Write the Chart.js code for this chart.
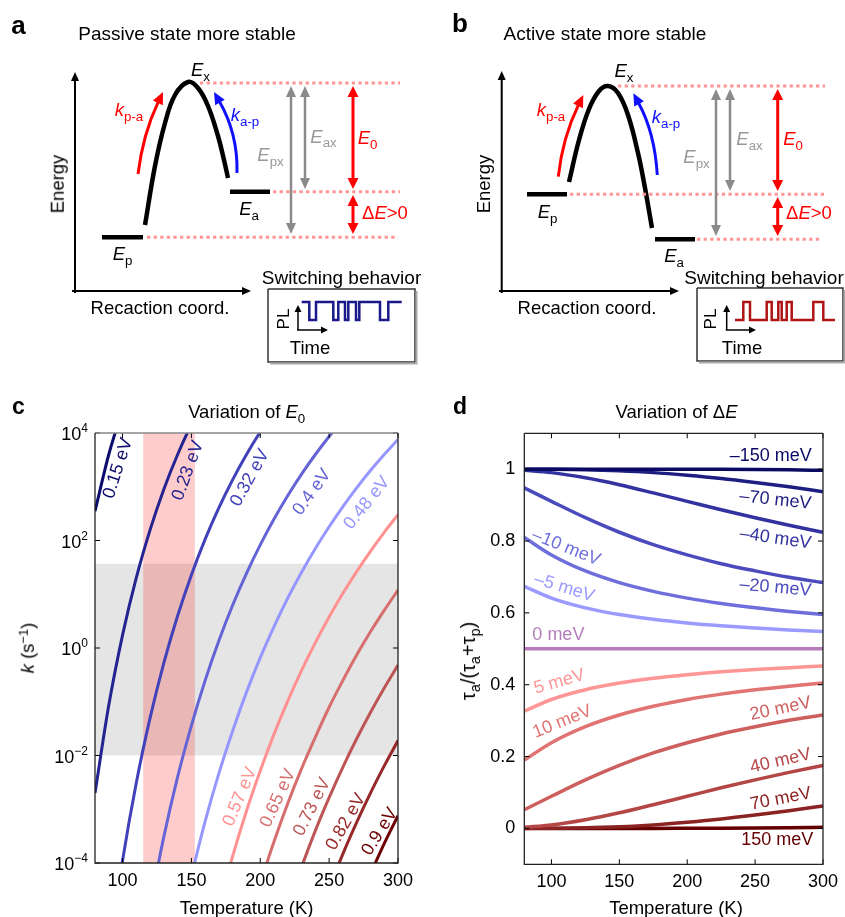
<!DOCTYPE html>
<html>
<head>
<meta charset="utf-8">
<script src="https://cdn.jsdelivr.net/npm/chart.js@4.4.0/dist/chart.umd.min.js"></script>
<style>
  body { margin: 0; background: #fff; }
  #page { position: relative; width: 845px; height: 917px; overflow: hidden; background: #fff;
          font-family: "Liberation Sans", Arial, Helvetica, sans-serif; font-size: 18.5px; color: #000; }
  canvas { position: absolute; }
  .t { position: absolute; white-space: nowrap; line-height: 1; transform: translate(-50%, -50%); }
  .r { transform: translate(-50%, -50%) rotate(-90deg); }
  .b { font-weight: bold; }
  .sub { font-size: 0.72em; position: relative; top: 0.35em; }
  .sup { font-size: 0.7em; position: relative; top: -0.45em; }
  .red { color: #f00; }
  .blue { color: #1010ff; }
  .gray { color: #999; }
</style>
</head>
<body>
<div id="page">
  <canvas id="schema" width="845" height="380" style="left:0;top:0"></canvas>
  <canvas id="chartC" width="420" height="527" style="left:0;top:390px"></canvas>
  <canvas id="chartD" width="425" height="527" style="left:420px;top:390px"></canvas>

  <!-- panneau a -->
  <div class="t b" style="left:18.5px;top:24.5px;font-size:26px">a</div>
  <div class="t" style="left:187px;top:33px;font-size:19px">Passive state more stable</div>
  <div class="t r" style="left:57.5px;top:184px">Energy</div>
  <div class="t" style="left:160px;top:308px">Recaction coord.</div>
  <div class="t" style="left:200.5px;top:70px"><i>E</i><span class="sub">x</span></div>
  <div class="t" style="left:122.5px;top:254px"><i>E</i><span class="sub">p</span></div>
  <div class="t" style="left:249px;top:209px"><i>E</i><span class="sub">a</span></div>
  <div class="t red" style="left:129px;top:110px"><i>k</i><span class="sub">p-a</span></div>
  <div class="t blue" style="left:245px;top:115px"><i>k</i><span class="sub">a-p</span></div>
  <div class="t gray" style="left:270.5px;top:155px"><i>E</i><span class="sub">px</span></div>
  <div class="t gray" style="left:323.5px;top:136.5px"><i>E</i><span class="sub">ax</span></div>
  <div class="t red" style="left:367.5px;top:138px"><i>E</i><span class="sub">0</span></div>
  <div class="t red" style="left:385px;top:213px">Δ<i>E</i>&gt;0</div>
  <div class="t" style="left:341.5px;top:277px;font-size:19px">Switching behavior</div>
  <div class="t r" style="left:283px;top:319px;font-size:17px">PL</div>
  <div class="t" style="left:310px;top:348px">Time</div>

  <!-- panneau b -->
  <div class="t b" style="left:460px;top:23px;font-size:26px">b</div>
  <div class="t" style="left:605px;top:33px;font-size:19px">Active state more stable</div>
  <div class="t r" style="left:483.5px;top:184px">Energy</div>
  <div class="t" style="left:587px;top:308px">Recaction coord.</div>
  <div class="t" style="left:624px;top:71px"><i>E</i><span class="sub">x</span></div>
  <div class="t" style="left:547.5px;top:212px"><i>E</i><span class="sub">p</span></div>
  <div class="t" style="left:674px;top:256px"><i>E</i><span class="sub">a</span></div>
  <div class="t red" style="left:551px;top:110px"><i>k</i><span class="sub">p-a</span></div>
  <div class="t blue" style="left:666px;top:117px"><i>k</i><span class="sub">a-p</span></div>
  <div class="t gray" style="left:696.5px;top:157px"><i>E</i><span class="sub">px</span></div>
  <div class="t gray" style="left:749.5px;top:139px"><i>E</i><span class="sub">ax</span></div>
  <div class="t red" style="left:793px;top:139px"><i>E</i><span class="sub">0</span></div>
  <div class="t red" style="left:809px;top:213px">Δ<i>E</i>&gt;0</div>
  <div class="t" style="left:764px;top:277px;font-size:19px">Switching behavior</div>
  <div class="t r" style="left:710px;top:319px;font-size:17px">PL</div>
  <div class="t" style="left:742px;top:348px">Time</div>

  <!-- panneaux c et d -->
  <div class="t b" style="left:18.5px;top:406px;font-size:23px">c</div>
  <div class="t" style="left:246.7px;top:412px">Variation of <i>E</i><span class="sub">0</span></div>
  <div class="t r" style="left:28px;top:648px"><i>k</i> (s<span class="sup">−1</span>)</div>
  <div class="t" style="left:246.7px;top:908px">Temperature (K)</div>

  <div class="t b" style="left:460px;top:406px;font-size:23px">d</div>
  <div class="t" style="left:676.5px;top:412px">Variation of Δ<i>E</i></div>
  <div class="t r" style="left:468px;top:661px;font-size:20px">τ<span class="sub">a</span>/(τ<span class="sub">a</span>+τ<span class="sub">p</span>)</div>
  <div class="t" style="left:676px;top:908px">Temperature (K)</div>
</div>

<script>
// Réglages globaux
Chart.defaults.font.family = '"Liberation Sans", Arial, Helvetica, sans-serif';
Chart.defaults.font.size = 18;
Chart.defaults.color = '#000';
Chart.defaults.animation = false;
Chart.defaults.plugins.legend.display = false;
Chart.defaults.plugins.tooltip.enabled = false;

// ---- Panneau c : taux k(T) pour différentes barrières E0 ----
const tempsC = [80, 90, 100, 110, 120, 130, 140, 150, 160, 170, 180, 190, 200, 210, 220, 230, 240, 250, 260, 270, 280, 290, 300];
const energiesC = ['0.15 eV', '0.23 eV', '0.32 eV', '0.4 eV', '0.48 eV', '0.57 eV', '0.65 eV', '0.73 eV', '0.82 eV', '0.9 eV'];
const rate015 = [3.5e2, 3.98e3, 2.75e4, null, null, null, null, null, null, null, null, null, null, null, null, null, null, null, null, null, null, null, null];
const rate023 = [2.0e-3, 8.6e-2, 1.74, 20.4, 158, 900, 3.98e3, 1.45e4, 4.5e4, null, null, null, null, null, null, null, null, null, null, null, null, null, null];
const rate032 = [null, 1.9e-6, 1.1e-4, 3.1e-3, 5.0e-2, 0.53, 3.98, 22.9, 106, 409, 1.36e3, 3.98e3, 1.05e4, 2.5e4, null, null, null, null, null, null, null, null, null];
const rate040 = [null, null, null, null, 1.6e-5, 3.1e-4, 4.0e-3, 3.6e-2, 0.25, 1.38, 6.3, 24.5, 83, 251, 686, 1.72e3, 3.98e3, 8.6e3, 1.76e4, null, null, null, null];
const rate048 = [null, null, null, null, null, null, null, 5.8e-5, 6.0e-4, 4.7e-3, 2.9e-2, 0.151, 0.66, 2.5, 8.5, 25.6, 71, 180, 428, 951, 2.0e3, 3.98e3, 7.6e3];
const rate057 = [null, null, null, null, null, null, null, null, null, 1.6e-5, 1.36e-4, 9.3e-4, 5.2e-3, 2.5e-2, 0.104, 0.383, 1.26, 3.77, 10.4, 26.4, 63, 142, 302];
const rate065 = [null, null, null, null, null, null, null, null, null, null, null, null, 4.2e-5, 2.5e-4, 1.29e-3, 5.7e-3, 2.2e-2, 7.9e-2, 0.25, 0.74, 2.0, 5.0, 12.0];
const rate073 = [null, null, null, null, null, null, null, null, null, null, null, null, null, null, null, 8.5e-5, 4.0e-4, 1.64e-3, 6.1e-3, 2.05e-2, 6.3e-2, 0.18, 0.48];
const rate082 = [null, null, null, null, null, null, null, null, null, null, null, null, null, null, null, null, null, 3.4e-5, 1.48e-4, 5.7e-4, 2.0e-3, 6.4e-3, 1.9e-2];
const rate090 = [null, null, null, null, null, null, null, null, null, null, null, null, null, null, null, null, null, null, null, null, 6.3e-5, 2.3e-4, 7.6e-4];
const ratesC = [rate015, rate023, rate032, rate040, rate048, rate057, rate065, rate073, rate082, rate090];
const tickTemps = [100, 150, 200, 250, 300];
const tickRates = [1e-4, 1e-2, 1e0, 1e2, 1e4];
const grayBandK = [1e-2, 37];      // zone grise (k)
const pinkBandT = [115, 152.5];    // zone rose (T)

// ---- Panneau d : tau_a/(tau_a+tau_p) pour différents Delta E ----
const tempsD = [80, 100, 125, 150, 175, 200, 225, 250, 275, 300];
const energiesD = ['–150 meV', '–70 meV', '–40 meV', '–20 meV', '–10 meV', '–5 meV', '0 meV', '5 meV', '10 meV', '20 meV', '40 meV', '70 meV', '150 meV'];
const fracM150 = [1, 1, 1, 1, 1, 0.9998, 0.9996, 0.9991, 0.9982, 0.997];
const fracM70 = [1.0, 0.9997, 0.9985, 0.9955, 0.9905, 0.983, 0.974, 0.963, 0.951, 0.9375];
const fracM40 = [0.997, 0.9905, 0.976, 0.9567, 0.934, 0.9106, 0.887, 0.865, 0.844, 0.8245];
const fracM20 = [0.948, 0.9106, 0.865, 0.8245, 0.790, 0.7616, 0.737, 0.717, 0.699, 0.6843];
const fracM10 = [0.810, 0.7614, 0.7167, 0.6843, 0.660, 0.6411, 0.6262, 0.614, 0.604, 0.5955];
const fracM5 = [0.6738, 0.6411, 0.614, 0.5955, 0.5822, 0.572, 0.5641, 0.5578, 0.5525, 0.5482];
const frac0 = [0.5, 0.5, 0.5, 0.5, 0.5, 0.5, 0.5, 0.5, 0.5, 0.5];
const frac5 = [0.3262, 0.3589, 0.386, 0.4045, 0.4178, 0.428, 0.4359, 0.4422, 0.4475, 0.4518];
const frac10 = [0.190, 0.2386, 0.2833, 0.3157, 0.340, 0.3589, 0.3738, 0.386, 0.396, 0.4045];
const frac20 = [0.052, 0.0894, 0.135, 0.1755, 0.210, 0.2384, 0.263, 0.283, 0.301, 0.3157];
const frac40 = [0.003, 0.0095, 0.024, 0.0433, 0.066, 0.0894, 0.113, 0.135, 0.156, 0.1755];
const frac70 = [0.0, 0.0003, 0.0015, 0.0045, 0.0095, 0.017, 0.026, 0.037, 0.049, 0.0625];
const frac150 = [0, 0, 0, 0, 0, 0.0002, 0.0004, 0.0009, 0.0018, 0.003];
const fracsD = [fracM150, fracM70, fracM40, fracM20, fracM10, fracM5, frac0, frac5, frac10, frac20, frac40, frac70, frac150];
const tickFracs = [0, 0.2, 0.4, 0.6, 0.8, 1];

// Couleurs
const colorsC = ['rgb(12,12,110)', 'rgb(35,35,145)', 'rgb(65,65,185)', 'rgb(100,100,215)', 'rgb(150,150,255)',
                 'rgb(255,145,145)', 'rgb(215,110,110)', 'rgb(190,85,85)', 'rgb(150,40,40)', 'rgb(110,0,0)'];
const colorsD = ['rgb(10,10,100)', 'rgb(30,30,130)', 'rgb(50,50,160)', 'rgb(75,75,190)', 'rgb(110,110,220)', 'rgb(155,155,255)',
                 'rgb(180,125,185)', 'rgb(255,150,150)', 'rgb(225,115,115)', 'rgb(205,95,95)', 'rgb(180,70,70)', 'rgb(140,35,35)', 'rgb(100,0,0)'];

// Positions des étiquettes (T, valeur, rotation en degrés)
const labelPosC = [[96.7, 2.2e3, -72], [147.5, 2.0e3, -70], [192.5, 1.45e3, -61], [237.6, 7.9e2, -54], [277.5, 5.0e2, -51],
                   [185.3, 1.7e-3, -67], [212.9, 1.6e-3, -65], [237.6, 1.1e-3, -63], [262.2, 5.8e-4, -60], [286.9, 3.8e-4, -58]];
const labelPosD = [[261.6, 1.037, 0], [265, 0.914, 6], [265, 0.807, 8], [265, 0.670, 5], [110.8, 0.782, 22], [109.5, 0.670, 17],
                   [105.1, 0.539, 0], [105.8, 0.408, -16], [108, 0.297, -22], [268.8, 0.333, -12], [268.8, 0.188, -13],
                   [268.8, 0.082, -11], [266.3, -0.033, 0]];

const FONT = '"Liberation Sans", Arial, Helvetica, sans-serif';

// Cadre, graduations intérieures et étiquettes des courbes
function framePlugin(opts) {
  return {
    id: 'frame_' + opts.name,
    beforeDatasetsDraw(chart) {
      if (opts.bands) opts.bands(chart);
    },
    afterDatasetsDraw(chart) {
      const { ctx, chartArea: a, scales: { x, y } } = chart;
      ctx.save();
      ctx.strokeStyle = '#000';
      ctx.lineWidth = 1;
      ctx.beginPath();
      x.ticks.forEach(t => {
        const px = x.getPixelForValue(t.value);
        ctx.moveTo(px, a.bottom); ctx.lineTo(px, a.bottom - 5);
        ctx.moveTo(px, a.top); ctx.lineTo(px, a.top + 5);
      });
      y.ticks.forEach(t => {
        const py = y.getPixelForValue(t.value);
        ctx.moveTo(a.left, py); ctx.lineTo(a.left + 5, py);
        ctx.moveTo(a.right, py); ctx.lineTo(a.right - 5, py);
      });
      ctx.stroke();

      ctx.lineWidth = 1.3;
      ctx.strokeStyle = opts.topColor || '#222';
      ctx.beginPath(); ctx.moveTo(a.left, a.top); ctx.lineTo(a.right, a.top); ctx.stroke();
      ctx.strokeStyle = '#222';
      ctx.beginPath();
      ctx.moveTo(a.left, a.top); ctx.lineTo(a.left, a.bottom); ctx.lineTo(a.right, a.bottom); ctx.lineTo(a.right, a.top);
      ctx.stroke();

      if (opts.logLabels) {
        ctx.fillStyle = '#000';
        ctx.textBaseline = 'alphabetic';
        ctx.textAlign = 'left';
        y.ticks.forEach(t => {
          const py = y.getPixelForValue(t.value);
          const e = Math.round(Math.log10(t.value));
          const exp = e < 0 ? '−' + (-e) : String(e);
          ctx.font = '12px ' + FONT;
          const wE = ctx.measureText(exp).width;
          ctx.font = '18px ' + FONT;
          const w10 = ctx.measureText('10').width;
          const right = a.left - 7;
          ctx.fillText('10', right - wE - w10, py + 7);
          ctx.font = '12px ' + FONT;
          ctx.fillText(exp, right - wE, py - 1);
        });
      }

      ctx.font = '18px ' + FONT;
      ctx.textAlign = 'center';
      ctx.textBaseline = 'middle';
      opts.labels.forEach((l, i) => {
        ctx.save();
        ctx.translate(x.getPixelForValue(l[0]), y.getPixelForValue(l[1]));
        ctx.rotate(l[2] * Math.PI / 180);
        ctx.fillStyle = opts.colors[i];
        ctx.fillText(opts.texts[i], 0, 0);
        ctx.restore();
      });
      ctx.restore();
    }
  };
}

function bandsC(chart) {
  const { ctx, chartArea: a, scales: { x, y } } = chart;
  ctx.save();
  ctx.fillStyle = '#e5e5e5';
  const yTop = y.getPixelForValue(grayBandK[1]);
  const yBot = y.getPixelForValue(grayBandK[0]);
  ctx.fillRect(a.left, yTop, a.right - a.left, yBot - yTop);
  ctx.fillStyle = 'rgba(255,0,0,0.2)';
  const x0 = x.getPixelForValue(pinkBandT[0]);
  const x1 = x.getPixelForValue(pinkBandT[1]);
  ctx.fillRect(x0, a.top, x1 - x0, a.bottom - a.top);
  ctx.restore();
}

function lineSets(temps, series, colors, width) {
  return series.map((vals, i) => ({
    data: temps.map((t, j) => ({ x: t, y: vals[j] })),
    showLine: true,
    borderColor: colors[i],
    borderWidth: width,
    pointRadius: 0,
    cubicInterpolationMode: 'monotone',
    spanGaps: false
  }));
}

const noGrid = { display: false, drawTicks: false };

// Graphique c
new Chart(document.getElementById('chartC'), {
  type: 'scatter',
  data: { datasets: lineSets(tempsC, ratesC, colorsC, 3) },
  options: {
    responsive: false,
    layout: { padding: { left: 35, top: 43, right: 22, bottom: 24 } },
    scales: {
      x: {
        type: 'linear', min: 80, max: 300,
        grid: noGrid, border: { display: false },
        ticks: { padding: 7, maxRotation: 0, callback: v => String(v) },
        afterBuildTicks: s => { s.ticks = tickTemps.map(v => ({ value: v })); },
        afterFit: s => { s.height = 30; }
      },
      y: {
        type: 'logarithmic', min: 1e-4, max: 1e4,
        grid: noGrid, border: { display: false },
        ticks: { display: false },
        afterBuildTicks: s => { s.ticks = tickRates.map(v => ({ value: v })); },
        afterFit: s => { s.width = 60; }
      }
    }
  },
  plugins: [framePlugin({ name: 'c', bands: bandsC, logLabels: true, topColor: '#888',
                          labels: labelPosC, texts: energiesC, colors: colorsC })]
});

// Graphique d
new Chart(document.getElementById('chartD'), {
  type: 'scatter',
  data: { datasets: lineSets(tempsD, fracsD, colorsD, 3.5) },
  options: {
    responsive: false,
    layout: { padding: { left: 44.3, top: 43.3, right: 16.7, bottom: 22.7 } },
    scales: {
      x: {
        type: 'linear', min: 80, max: 300,
        grid: noGrid, border: { display: false },
        ticks: { padding: 7, maxRotation: 0, callback: v => String(v) },
        afterBuildTicks: s => { s.ticks = tickTemps.map(v => ({ value: v })); },
        afterFit: s => { s.height = 30; }
      },
      y: {
        type: 'linear', min: -0.1, max: 1.1,
        grid: noGrid, border: { display: false },
        ticks: { padding: 9, callback: v => String(v) },
        afterBuildTicks: s => { s.ticks = tickFracs.map(v => ({ value: v })); },
        afterFit: s => { s.width = 60; }
      }
    }
  },
  plugins: [framePlugin({ name: 'd', labels: labelPosD, texts: energiesD, colors: colorsD })]
});

// ---- Schémas a et b (coordonnées du dessin en px) ----
const barrierA = [[145, 225], [155, 166], [165, 123], [175, 95], [188, 82], [198, 88], [208, 106], [218, 136], [224, 160], [228, 178]];
const barrierB = [[569, 182], [579, 140], [589, 109], [599, 91], [608, 86], [618, 93], [628, 115], [638, 153], [645, 188], [652, 228]];
const levels = [[102, 143, 237.3], [230, 270, 191.7], [527, 567, 194.3], [655, 695, 239.3]];   // x0, x1, y
const dotted = [[200, 400, 83], [273, 400, 191.7], [147, 398, 237.3], [618, 825, 86], [570, 825, 194.3], [697, 822, 239.3]];
const insets = [[268, 289, 415, 362], [697, 288, 843, 361]];
const pulseA = [[301.7, 1], [309.3, 0], [316, 1], [333.3, 0], [338.3, 1], [345, 0], [348.3, 1], [356, 0], [359.3, 1], [380, 0], [388.3, 1], [401.7, 1]];
const pulseB = [[735, 0], [743.3, 1], [750, 0], [766.7, 1], [771.7, 0], [778.3, 1], [781.7, 0], [786.7, 1], [791.7, 0], [813.3, 1], [823.3, 0], [835, 0]];
const pulseHigh = 302, pulseLow = 320;

const BLACK = '#000', GRAY = '#8a8a8a', RED = '#f00', BLUE = '#1010ff';
const arrows = [
  // axes
  { pts: [[75, 293], [75, 72]], color: BLACK, width: 2, head: 'end', len: 9, half: 4 },
  { pts: [[72, 291], [251, 291]], color: BLACK, width: 2, head: 'end', len: 9, half: 4 },
  { pts: [[501.7, 293], [501.7, 71]], color: BLACK, width: 2, head: 'end', len: 9, half: 4 },
  { pts: [[499, 291], [679, 291]], color: BLACK, width: 2, head: 'end', len: 9, half: 4 },
  // écarts d'énergie a
  { pts: [[291, 86], [291, 234]], color: GRAY, width: 2.5, head: 'both', len: 11, half: 5 },
  { pts: [[305, 86], [305, 189]], color: GRAY, width: 2.5, head: 'both', len: 11, half: 5 },
  { pts: [[353, 86], [353, 189]], color: RED, width: 3, head: 'both', len: 11, half: 5.5 },
  { pts: [[353, 195], [353, 234]], color: RED, width: 3, head: 'both', len: 11, half: 5.5 },
  // écarts d'énergie b
  { pts: [[716, 89], [716, 236]], color: GRAY, width: 2.5, head: 'both', len: 11, half: 5 },
  { pts: [[730, 89], [730, 191]], color: GRAY, width: 2.5, head: 'both', len: 11, half: 5 },
  { pts: [[777.7, 89], [777.7, 191]], color: RED, width: 3, head: 'both', len: 11, half: 5.5 },
  { pts: [[777.7, 197], [777.7, 236]], color: RED, width: 3, head: 'both', len: 11, half: 5.5 },
  // flèches courbes k
  { pts: [[138, 174], [143, 134], [163, 92]], color: RED, width: 3, head: 'end', len: 12, half: 5.5 },
  { pts: [[237, 173], [238, 134], [214, 92]], color: BLUE, width: 3, head: 'end', len: 12, half: 5.5 },
  { pts: [[558.3, 176.7], [562.6, 137.5], [583.3, 95]], color: RED, width: 3, head: 'end', len: 12, half: 5.5 },
  { pts: [[657.3, 175], [654.7, 132.5], [633.3, 93.3]], color: BLUE, width: 3, head: 'end', len: 12, half: 5.5 },
  // petits axes des encarts
  { pts: [[298, 330], [298, 305]], color: BLACK, width: 1.5, head: 'end', len: 7, half: 3.5 },
  { pts: [[297, 330], [328, 330]], color: BLACK, width: 1.5, head: 'end', len: 7, half: 3.5 },
  { pts: [[726.7, 330], [726.7, 305]], color: BLACK, width: 1.5, head: 'end', len: 7, half: 3.5 },
  { pts: [[725.7, 330], [756, 330]], color: BLACK, width: 1.5, head: 'end', len: 7, half: 3.5 }
];

const toXY = pts => pts.map(p => ({ x: p[0], y: p[1] }));
function pulsePoints(pulse) {
  const out = [];
  pulse.forEach((p, i) => {
    const lvl = p[1] ? pulseHigh : pulseLow;
    if (i > 0) {
      const prev = pulse[i - 1][1] ? pulseHigh : pulseLow;
      out.push({ x: p[0], y: prev });
    }
    out.push({ x: p[0], y: lvl });
  });
  return out;
}

const schemaSets = [];
insets.forEach(b => {
  schemaSets.push({ data: toXY([[b[2] + 1.5, b[1] + 2], [b[2] + 1.5, b[3] + 1.5], [b[0] + 2, b[3] + 1.5]]),
                    borderColor: '#aaa', borderWidth: 2 });
  schemaSets.push({ data: toXY([[b[0], b[1]], [b[2], b[1]], [b[2], b[3]], [b[0], b[3]], [b[0], b[1]]]),
                    borderColor: '#333', borderWidth: 1.5 });
});
dotted.forEach(d => schemaSets.push({ data: toXY([[d[0], d[2]], [d[1], d[2]]]), borderColor: 'rgb(255,150,150)',
                                      borderWidth: 3, borderDash: [3.3, 3.3] }));
levels.forEach(l => schemaSets.push({ data: toXY([[l[0], l[2]], [l[1], l[2]]]), borderColor: BLACK, borderWidth: 4.5 }));
[barrierA, barrierB].forEach(c => schemaSets.push({ data: toXY(c), borderColor: BLACK, borderWidth: 4.5, tension: 0.4 }));
schemaSets.push({ data: pulsePoints(pulseA), borderColor: 'rgb(25,25,140)', borderWidth: 2.5 });
schemaSets.push({ data: pulsePoints(pulseB), borderColor: 'rgb(175,20,20)', borderWidth: 2.5 });
arrows.forEach(a => schemaSets.push({ data: toXY(a.pts), showLine: false, arrow: a }));
schemaSets.forEach(s => {
  if (s.showLine === undefined) s.showLine = true;
  s.pointRadius = 0;
  s.clip = false;
  if (s.tension === undefined) s.tension = 0;
  s.borderJoinStyle = 'miter';
});

// Flèches dessinées à partir des échelles
const arrowPlugin = {
  id: 'arrows',
  afterDatasetsDraw(chart) {
    const { ctx, scales: { x, y } } = chart;
    chart.data.datasets.forEach(ds => {
      const a = ds.arrow;
      if (!a) return;
      const p = ds.data.map(d => [x.getPixelForValue(d.x), y.getPixelForValue(d.y)]);
      const n = p.length;
      const heads = [];
      const unit = (from, to) => {
        const dx = to[0] - from[0], dy = to[1] - from[1], l = Math.hypot(dx, dy);
        return [dx / l, dy / l];
      };
      if (a.head === 'end' || a.head === 'both') {
        const u = unit(p[n - 2], p[n - 1]);
        heads.push([p[n - 1], u]);
        p[n - 1] = [p[n - 1][0] - u[0] * (a.len - 1), p[n - 1][1] - u[1] * (a.len - 1)];
      }
      if (a.head === 'both') {
        const u = unit(p[1], p[0]);
        heads.push([p[0], u]);
        p[0] = [p[0][0] - u[0] * (a.len - 1), p[0][1] - u[1] * (a.len - 1)];
      }
      ctx.save();
      ctx.strokeStyle = a.color;
      ctx.fillStyle = a.color;
      ctx.lineWidth = a.width;
      ctx.beginPath();
      ctx.moveTo(p[0][0], p[0][1]);
      if (n === 3) ctx.quadraticCurveTo(p[1][0], p[1][1], p[2][0], p[2][1]);
      else ctx.lineTo(p[1][0], p[1][1]);
      ctx.stroke();
      heads.forEach(([tip, u]) => {
        const bx = tip[0] - u[0] * a.len, by = tip[1] - u[1] * a.len;
        ctx.beginPath();
        ctx.moveTo(tip[0], tip[1]);
        ctx.lineTo(bx - u[1] * a.half, by + u[0] * a.half);
        ctx.lineTo(bx + u[1] * a.half, by - u[0] * a.half);
        ctx.closePath();
        ctx.fill();
      });
      ctx.restore();
    });
  }
};

new Chart(document.getElementById('schema'), {
  type: 'scatter',
  data: { datasets: schemaSets },
  options: {
    responsive: false,
    layout: { padding: 0 },
    scales: {
      x: { type: 'linear', min: 0, max: 845, display: false },
      y: { type: 'linear', min: 0, max: 380, reverse: true, display: false }
    }
  },
  plugins: [arrowPlugin]
});
</script>
</body>
</html>
